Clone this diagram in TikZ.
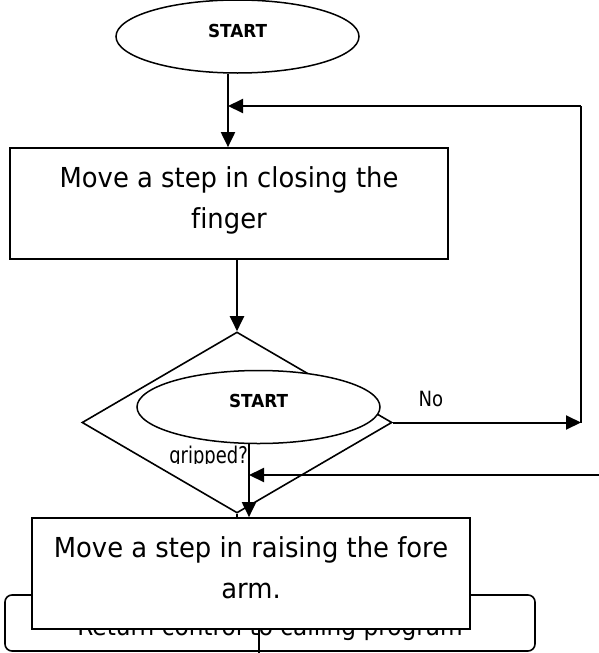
\documentclass[tikz,border=0pt]{standalone}
\usepackage{fontspec}
\usetikzlibrary{shapes.geometric,arrows.meta}
\newfontfamily\flowfont[FakeStretch=0.94,Ligatures=NoCommon]{DejaVu Sans}
\newfontfamily\flownarrow[FakeStretch=0.86]{DejaVu Sans}
\newfontfamily\flowtight[FakeStretch=0.78]{DejaVu Sans}
\begin{document}
\begin{tikzpicture}[x=1pt,y=-1pt,
  terminal/.style={draw, line width=1.5pt, ellipse, fill=white,
    minimum width=243pt, minimum height=73pt, inner sep=0pt,
    text height=13pt, text depth=12pt,
    font=\flowfont\bfseries\fontsize{17.9}{20}\selectfont},
  process/.style={draw, line width=1.7pt, rectangle, fill=white,
    minimum width=438pt, minimum height=111pt, inner sep=0pt, align=center,
    font=\flowfont\fontsize{27.5}{41}\selectfont},
  decision/.style={draw, line width=1.6pt, diamond, fill=white,
    minimum width=310pt, minimum height=181pt, inner sep=0pt},
  endbox/.style={draw, line width=1.6pt, rectangle, rounded corners=7pt, fill=white,
    minimum width=530pt, minimum height=56pt, inner sep=0pt,
    text height=24pt, text depth=0pt,
    font=\flowfont\fontsize{24.7}{28}\selectfont},
  smalltext/.style={inner sep=0pt, font=\flownarrow\fontsize{21}{24}\selectfont},
  cuttext/.style={inner sep=0pt, font=\flowtight\fontsize{23}{26}\selectfont},
  link/.style={line width=2pt},
  flow/.style={link, -{Triangle[length=15pt,width=14pt]}}
]
% page and background
\fill[white] (0,0) rectangle (598,653);
\useasboundingbox (0,0) rectangle (598,653);

% shapes, back to front
\node[endbox] (ret) at (270,623) {Return control to calling program};
\node[decision] (d) at (237,422.5) {};
\node[terminal] (e2) at (258.5,407) {START};
\node[terminal] (e1) at (237.5,36.5) {START};
\node[process] (b1) at (229,203.5)
  {\rule{0pt}{22pt}Move a step in closing the\\finger\rule[-14pt]{0pt}{14pt}};
\node[process] (b2) at (251,573.5)
  {\rule{0pt}{22pt}Move a step in raising the fore\\arm.\rule[-14pt]{0pt}{14pt}};

% junctions and loose ends
\coordinate (j1) at (228,106);
\coordinate (c1) at (581,422.5);
\coordinate (c2) at (581,106);
\coordinate (j2) at (249,475);
\coordinate (in2) at (610,475);
\coordinate (out) at (259,665);

% connectors
\draw[flow] (e1.south -| j1) -- (b1.north -| j1);
\draw[flow] (c2) -- (j1);
\draw[link] (c1) -- (c2);
\draw[flow] (d.east) -- (c1);
\draw[flow] (b1.south -| d.north) -- (d.north);
\draw[flow] (e2.south -| j2) -- (b2.north -| j2);
\draw[flow] (in2) -- (j2);
\draw[line width=1.6pt] (d.south) -- (d.south |- b2.north);
\draw[link] (b2.south -| out) -- (out);

% labels
\node[smalltext] (no) at (431,399) {No};
\begin{scope}
  \clip (140,440) rectangle (248.5,463.5);
  \node[cuttext, anchor=base east] (gq) at (248,463) {gripped?};
\end{scope}
\end{tikzpicture}
\end{document}
